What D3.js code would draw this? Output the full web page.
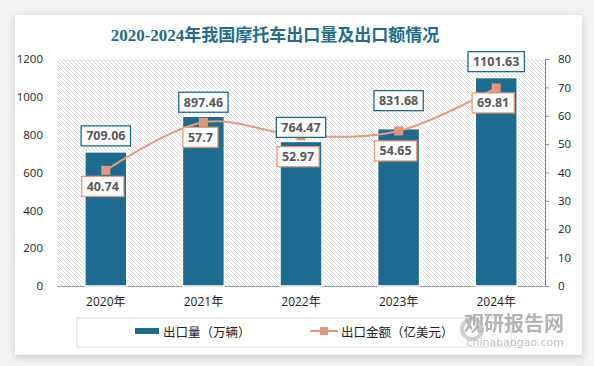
<!DOCTYPE html>
<html><head><meta charset="utf-8">
<script src="https://cdn.jsdelivr.net/npm/d3@7"></script>
<style>
html,body{margin:0;padding:0;background:#f3f3f3;}
svg{display:block;}
</style></head>
<body>
<svg id="chart" width="594" height="366"></svg>
<script>
const categories = ["2020年","2021年","2022年","2023年","2024年"];
const volume = [709.06, 897.46, 764.47, 831.68, 1101.63];
const amount = [40.74, 57.7, 52.97, 54.65, 69.81];
const leftTicks = [0,200,400,600,800,1000,1200];
const rightTicks = [0,10,20,30,40,50,60,70,80];
const title = "2020-2024年我国摩托车出口量及出口额情况";
const seriesNames = ["出口量（万辆）","出口金额（亿美元）"];

const barColor = "#1d6b8e", lineColor = "#e89a7b", markColor = "#e3977a", labelColor = "#595959";
const svg = d3.select("#chart");
const defs = svg.append("defs");
const sh = defs.append("filter").attr("id","sh").attr("x","-5%").attr("y","-5%").attr("width","110%").attr("height","115%");
sh.append("feDropShadow").attr("dx",0).attr("dy",2).attr("stdDeviation",4).attr("flood-color","#000").attr("flood-opacity",0.18);
const pat = defs.append("pattern").attr("id","hatch").attr("patternUnits","userSpaceOnUse").attr("width",4).attr("height",4);
pat.append("rect").attr("width",4).attr("height",4).attr("fill","#fff");
pat.append("path").attr("d","M-1,-1 L5,5 M-1,3 L1,5 M3,-1 L5,1").attr("stroke","#cfcfcf").attr("stroke-width",0.8);

// card
svg.append("rect").attr("x",15).attr("y",15).attr("width",567).attr("height",340).attr("fill","#fff").attr("filter","url(#sh)");

const L = 57, R = 545, T = 59, B = 286;
const x = d3.scaleBand().domain(categories).range([L,R]).paddingInner(0.57).paddingOuter(0.285);
const yL = d3.scaleLinear().domain([0,1200]).range([B,T]);
const yR = d3.scaleLinear().domain([0,80]).range([B,T]);

svg.append("rect").attr("x",L).attr("y",T).attr("width",R-L).attr("height",B-T).attr("fill","url(#hatch)");

// title
svg.append("text").attr("x",275).attr("y",41).attr("text-anchor","middle")
  .attr("font-family","'Liberation Serif','Noto Sans CJK SC',serif").attr("font-weight","bold")
  .attr("font-size",17).attr("fill","#226c8e").text(title);

// left axis
const gl = svg.append("g").attr("transform",`translate(${L},0)`)
  .call(d3.axisLeft(yL).tickValues(leftTicks).tickFormat(d3.format("d")).tickSize(0).tickPadding(14));
gl.select(".domain").remove();
gl.selectAll("text").attr("font-family","'Open Sans',sans-serif").attr("font-size",11.5).attr("fill","#222");

// right axis
const gr = svg.append("g").attr("transform",`translate(${R},0)`)
  .call(d3.axisRight(yR).tickValues(rightTicks).tickFormat(d3.format("d")).tickSize(4).tickPadding(9));
gr.select(".domain").attr("stroke","#888");
gr.selectAll("line").attr("stroke","#888");
gr.selectAll("text").attr("font-family","'Open Sans',sans-serif").attr("font-size",11.5).attr("fill","#222");

// bottom axis
const gb = svg.append("g").attr("transform",`translate(0,${B})`)
  .call(d3.axisBottom(x).tickSize(0).tickPadding(11));
gb.select(".domain").attr("stroke","#999").attr("stroke-width",1);
gb.selectAll("text").attr("font-family","'Open Sans','Noto Sans CJK SC',sans-serif").attr("font-size",12).attr("fill","#222");

// bars
svg.append("g").selectAll("rect").data(volume).join("rect")
  .attr("x",(d,i)=>x(categories[i])).attr("width",x.bandwidth())
  .attr("y",d=>yL(d)).attr("height",d=>B-yL(d))
  .attr("fill",barColor).attr("stroke","#fff").attr("stroke-width",1.5);

// line
const cx = i => x(categories[i]) + x.bandwidth()/2;
const line = d3.line().x((d,i)=>cx(i)).y(d=>yR(d)).curve(d3.curveCatmullRom.alpha(0.5));
svg.append("path").datum(amount).attr("d",line).attr("fill","none").attr("stroke",lineColor).attr("stroke-width",2);
svg.append("g").selectAll("rect").data(amount).join("rect")
  .attr("x",(d,i)=>cx(i)-4.5).attr("y",d=>yR(d)-4.5).attr("width",9).attr("height",9).attr("fill",markColor);

// labels
function label(g, tx, cy, text, border){
  const t = g.append("text").attr("x",tx).attr("y",cy).attr("text-anchor","middle").attr("dominant-baseline","central")
    .attr("font-family","'Open Sans',sans-serif").attr("font-weight","bold").attr("font-size",12.5).attr("fill",labelColor).text(text);
  const bb = t.node().getBBox();
  g.insert("rect","text").attr("x",bb.x-5).attr("y",cy-10).attr("width",bb.width+10).attr("height",20)
    .attr("fill","#fff").attr("stroke",border).attr("stroke-width",1.3);
}
const barLift = [16, 14, 14, 28, 16];
const lineDrop = [16, 15, 21, 20, 15];
volume.forEach((d,i)=>{ const g=svg.append("g"); label(g, cx(i), yL(d)-barLift[i], d.toFixed(2), barColor); });
amount.forEach((d,i)=>{ const g=svg.append("g"); label(g, cx(i)-3, yR(d)+lineDrop[i], String(d), lineColor); });

// legend
const lg = svg.append("g");
lg.append("rect").attr("x",77).attr("y",318).attr("width",434).attr("height",29).attr("fill","#fff").attr("stroke","#d9d9d9");
lg.append("rect").attr("x",135).attr("y",328).attr("width",24).attr("height",6).attr("fill",barColor);
lg.append("text").attr("x",163).attr("y",331).attr("dominant-baseline","central")
  .attr("font-family","'Noto Sans CJK SC',sans-serif").attr("font-size",12.5).attr("fill","#222").text(seriesNames[0]);
lg.append("line").attr("x1",310).attr("x2",338).attr("y1",331).attr("y2",331).attr("stroke",lineColor).attr("stroke-width",2);
lg.append("rect").attr("x",320).attr("y",327).attr("width",8).attr("height",8).attr("fill",markColor);
lg.append("text").attr("x",341).attr("y",331).attr("dominant-baseline","central")
  .attr("font-family","'Noto Sans CJK SC',sans-serif").attr("font-size",12.5).attr("fill","#222").text(seriesNames[1]);

// watermark
const wm = svg.append("g").attr("opacity",0.55);
wm.append("circle").attr("cx",472).attr("cy",329).attr("r",10).attr("fill","none").attr("stroke","#aaa").attr("stroke-width",4);
wm.append("text").attr("x",564).attr("y",331).attr("text-anchor","end")
  .attr("font-family","'Noto Sans CJK SC',sans-serif").attr("font-weight","bold").attr("font-size",20).attr("fill","#777").text("观研报告网");
wm.append("text").attr("x",564).attr("y",346).attr("text-anchor","end")
  .attr("font-family","'DejaVu Sans',sans-serif").attr("font-size",11).attr("fill","#888").text("chinabaogao.com");
</script>
</body></html>
